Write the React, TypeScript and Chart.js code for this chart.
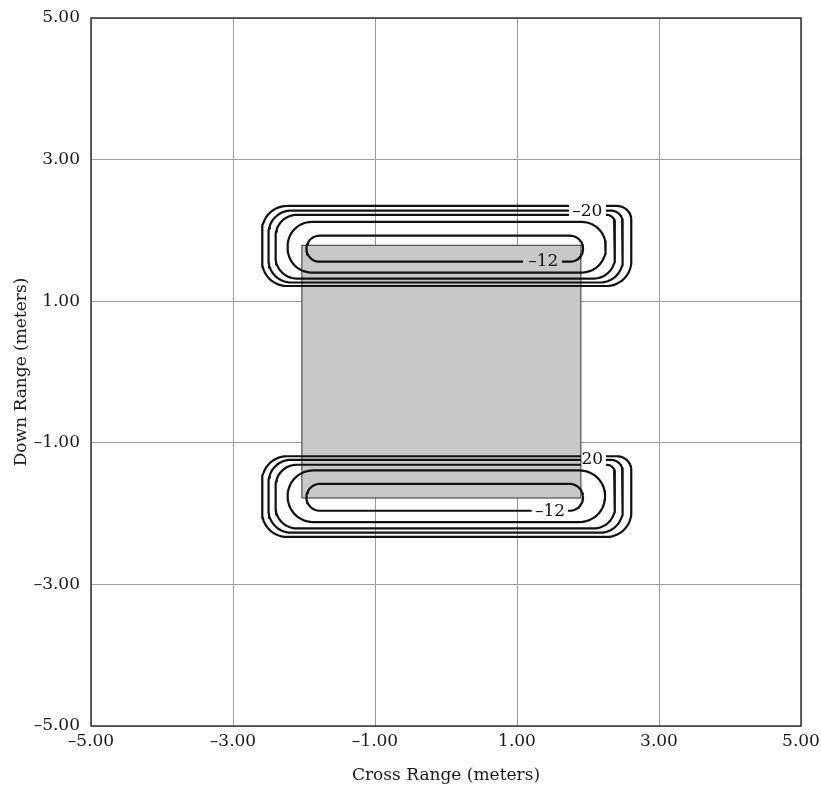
import React, { useEffect, useRef } from "react";
import { Chart, registerables } from "chart.js";

Chart.register(...registerables);

// ---- axes ----
const AXIS_MIN = -5;
const AXIS_MAX = 5;
const X_TICKS = [-5, -3, -1, 1, 3, 5];
const Y_TICKS = [-5, -3, -1, 1, 3, 5];
const X_TITLE = "Cross Range (meters)";
const Y_TITLE = "Down Range (meters)";

// ---- gray target rectangle (meters) ----
const TARGET_X = [-2.03, 1.9];
const TARGET_Y = [-1.78, 1.79];

// ---- contour loops, upper group (inner -> outer) ----
const UPPER_LEFT = [-1.965, -2.23, -2.4, -2.5, -2.59];
const UPPER_RIGHT = [1.93, 2.25, 2.38, 2.49, 2.61];
const UPPER_TOP = [1.925, 2.12, 2.22, 2.28, 2.345];
const UPPER_BOTTOM = [1.558, 1.405, 1.32, 1.264, 1.215];
const UPPER_R_LEFT = [0.183, 0.34, 0.3, 0.32, 0.35];
const UPPER_R_TOPRIGHT = [0.183, 0.34, 0.12, 0.17, 0.2];
const UPPER_R_BOTRIGHT = [0.183, 0.34, 0.3, 0.32, 0.35];
const UPPER_GAP_EDGE = ["bottom", "", "top", "top", "top"];
const UPPER_GAP_FROM = [1.085, 0, 1.732, 1.732, 1.732];
const UPPER_GAP_TO = [1.634, 0, 2.254, 2.254, 2.254];

// ---- contour loops, lower group (inner -> outer) ----
const LOWER_LEFT = [-1.965, -2.23, -2.4, -2.5, -2.59];
const LOWER_RIGHT = [1.93, 2.24, 2.38, 2.49, 2.61];
const LOWER_TOP = [-1.58, -1.39, -1.31, -1.24, -1.19];
const LOWER_BOTTOM = [-1.96, -2.12, -2.21, -2.27, -2.33];
const LOWER_R_LEFT = [0.19, 0.36, 0.3, 0.32, 0.35];
const LOWER_R_TOPRIGHT = [0.19, 0.36, 0.12, 0.17, 0.2];
const LOWER_R_BOTRIGHT = [0.19, 0.36, 0.3, 0.32, 0.35];
const LOWER_GAP_EDGE = ["bottom", "", "top", "top", "top"];
const LOWER_GAP_FROM = [1.207, 0, 1.9, 1.9, 1.9];
const LOWER_GAP_TO = [1.718, 0, 2.254, 2.254, 2.254];

// ---- contour labels ----
const LABEL_TEXT = ["\u201320", "\u201312", "20", "\u201312"];
const LABEL_X = [1.99, 1.37, 2.06, 1.465];
const LABEL_Y = [2.27, 1.563, -1.239, -1.973];

const FONT = "'DejaVu Serif', 'Liberation Serif', serif";

type P = { x: number | null; y: number | null };

function loopPoints(
  L: number, R: number, T: number, B: number,
  rl: number, rtr: number, rbr: number,
  edge: string, g0: number, g1: number
): P[] {
  const pts: P[] = [];
  const arc = (cx: number, cy: number, r: number, a0: number, a1: number) => {
    const n = 14;
    for (let i = 0; i <= n; i++) {
      const a = a0 + ((a1 - a0) * i) / n;
      pts.push({ x: cx + r * Math.cos(a), y: cy + r * Math.sin(a) });
    }
  };
  pts.push({ x: L + rl, y: T });
  if (edge === "top") {
    pts.push({ x: g0, y: T });
    pts.push({ x: null, y: null });
    pts.push({ x: g1, y: T });
  }
  arc(R - rtr, T - rtr, rtr, Math.PI / 2, 0);
  arc(R - rbr, B + rbr, rbr, 0, -Math.PI / 2);
  if (edge === "bottom") {
    pts.push({ x: g1, y: B });
    pts.push({ x: null, y: null });
    pts.push({ x: g0, y: B });
  }
  arc(L + rl, B + rl, rl, -Math.PI / 2, -Math.PI);
  arc(L + rl, T - rl, rl, Math.PI, Math.PI / 2);
  return pts;
}

function fmt(v: number): string {
  return v < 0 ? "\u2013" + Math.abs(v).toFixed(2) : v.toFixed(2);
}

export default function App() {
  const ref = useRef<HTMLCanvasElement | null>(null);

  useEffect(() => {
    if (!ref.current) return;

    const datasets: any[] = [];
    const addGroup = (
      Ls: number[], Rs: number[], Ts: number[], Bs: number[],
      rls: number[], rtrs: number[], rbrs: number[],
      edges: string[], g0s: number[], g1s: number[]
    ) => {
      for (let i = 0; i < Ls.length; i++) {
        datasets.push({
          data: loopPoints(Ls[i], Rs[i], Ts[i], Bs[i], rls[i], rtrs[i], rbrs[i], edges[i], g0s[i], g1s[i]),
          showLine: true,
          borderColor: "#111111",
          borderWidth: 2.2,
          pointRadius: 0,
          pointHoverRadius: 0,
          tension: 0,
          spanGaps: false,
          fill: false,
        });
      }
    };
    addGroup(UPPER_LEFT, UPPER_RIGHT, UPPER_TOP, UPPER_BOTTOM, UPPER_R_LEFT, UPPER_R_TOPRIGHT, UPPER_R_BOTRIGHT, UPPER_GAP_EDGE, UPPER_GAP_FROM, UPPER_GAP_TO);
    addGroup(LOWER_LEFT, LOWER_RIGHT, LOWER_TOP, LOWER_BOTTOM, LOWER_R_LEFT, LOWER_R_TOPRIGHT, LOWER_R_BOTRIGHT, LOWER_GAP_EDGE, LOWER_GAP_FROM, LOWER_GAP_TO);

    const targetPlugin = {
      id: "target",
      beforeDatasetsDraw(chart: any) {
        const { ctx, scales } = chart;
        const x0 = scales.x.getPixelForValue(TARGET_X[0]);
        const x1 = scales.x.getPixelForValue(TARGET_X[1]);
        const y0 = scales.y.getPixelForValue(TARGET_Y[1]);
        const y1 = scales.y.getPixelForValue(TARGET_Y[0]);
        ctx.save();
        ctx.fillStyle = "#c7c8ca";
        ctx.fillRect(x0, y0, x1 - x0, y1 - y0);
        ctx.strokeStyle = "#333333";
        ctx.lineWidth = 1;
        ctx.strokeRect(x0, y0, x1 - x0, y1 - y0);
        ctx.restore();
      },
      afterDatasetsDraw(chart: any) {
        const { ctx, scales, chartArea } = chart;
        ctx.save();
        ctx.fillStyle = "#111111";
        ctx.font = `17px ${FONT}`;
        ctx.textAlign = "center";
        ctx.textBaseline = "middle";
        for (let i = 0; i < LABEL_TEXT.length; i++) {
          ctx.fillText(
            LABEL_TEXT[i],
            scales.x.getPixelForValue(LABEL_X[i]),
            scales.y.getPixelForValue(LABEL_Y[i])
          );
        }
        ctx.strokeStyle = "#333333";
        ctx.lineWidth = 1.5;
        ctx.strokeRect(
          chartArea.left,
          chartArea.top,
          chartArea.right - chartArea.left,
          chartArea.bottom - chartArea.top
        );
        ctx.restore();
      },
    };

    const tickFont = { family: FONT, size: 17 };

    const chart = new Chart(ref.current, {
      type: "scatter",
      data: { datasets },
      options: {
        animation: false,
        responsive: true,
        maintainAspectRatio: false,
        layout: { padding: { left: 0, top: 18, right: 20, bottom: 0 } },
        plugins: {
          legend: { display: false },
          tooltip: { enabled: false },
        },
        scales: {
          x: {
            type: "linear",
            min: AXIS_MIN,
            max: AXIS_MAX,
            afterBuildTicks: (s: any) => {
              s.ticks = X_TICKS.map((v) => ({ value: v }));
            },
            afterFit: (s: any) => {
              s.height = 64;
              s.paddingLeft = 0;
              s.paddingRight = 0;
            },
            grid: { color: "#9c9c9c", lineWidth: 1, drawTicks: false },
            border: { display: false },
            ticks: {
              font: tickFont,
              color: "#1a1a1a",
              padding: 5,
              maxRotation: 0,
              autoSkip: false,
              callback: (v: any) => fmt(Number(v)),
            },
            title: {
              display: true,
              text: X_TITLE,
              font: { family: FONT, size: 17 },
              color: "#1a1a1a",
              padding: { top: 4, bottom: 4 },
            },
          },
          y: {
            type: "linear",
            min: AXIS_MIN,
            max: AXIS_MAX,
            afterBuildTicks: (s: any) => {
              s.ticks = Y_TICKS.map((v) => ({ value: v }));
            },
            afterFit: (s: any) => {
              s.width = 91;
              s.paddingTop = 0;
              s.paddingBottom = 0;
            },
            grid: { color: "#9c9c9c", lineWidth: 1, drawTicks: false },
            border: { display: false },
            ticks: {
              font: tickFont,
              color: "#1a1a1a",
              padding: 11,
              autoSkip: false,
              callback: (v: any) => fmt(Number(v)),
            },
            title: {
              display: true,
              text: Y_TITLE,
              font: { family: FONT, size: 17 },
              color: "#1a1a1a",
              padding: { top: 11, bottom: 4 },
            },
          },
        },
      } as any,
      plugins: [targetPlugin],
    });

    return () => chart.destroy();
  }, []);

  return (
    <div style={{ position: "absolute", left: 0, top: 0, width: 821, height: 790 }}>
      <canvas ref={ref} />
    </div>
  );
}
